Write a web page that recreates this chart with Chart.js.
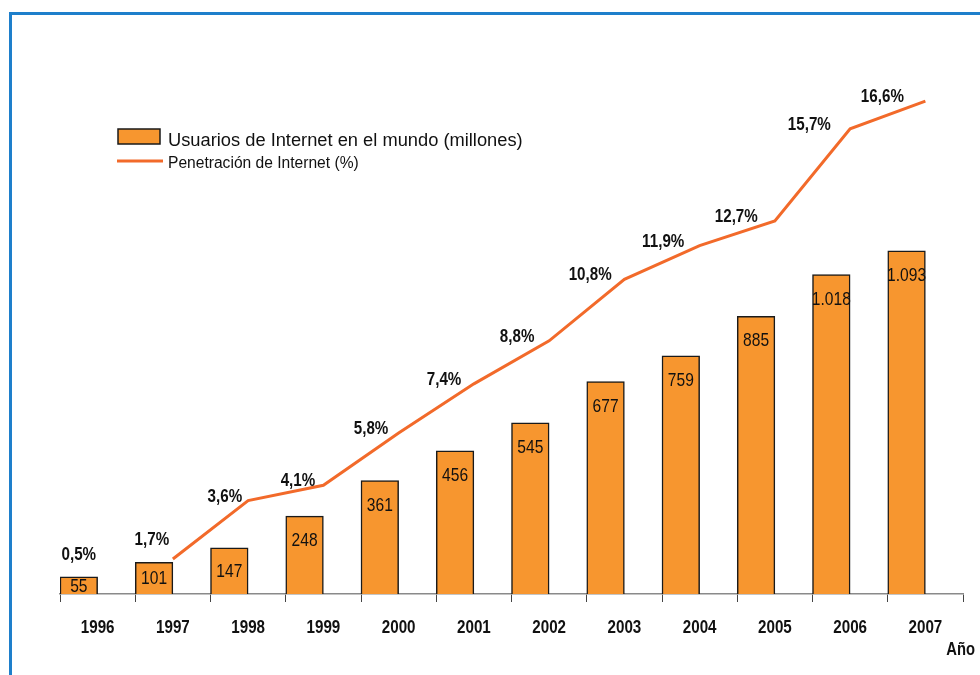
<!DOCTYPE html>
<html><head><meta charset="utf-8">
<script src="https://cdn.jsdelivr.net/npm/chart.js@4/dist/chart.umd.min.js"></script>
<style>
html,body{margin:0;padding:0;background:#fff;overflow:hidden;width:980px;height:675px}
#frame{position:absolute;left:9px;top:12px;width:1000px;height:700px;border:3px solid #1E7FCB;box-sizing:border-box}
#c{position:absolute;left:0;top:0}
</style></head><body>
<div id="frame"></div>
<canvas id="c" width="980" height="675"></canvas>
<script>
// ---- data ----
const years = ['1996','1997','1998','1999','2000','2001','2002','2003','2004','2005','2006','2007'];
const users = [55,101,147,248,361,456,545,677,759,885,1018,1093];           // millones
const penetration = [0.5,1.7,3.6,4.1,5.8,7.4,8.8,10.8,11.9,12.7,15.7,16.6]; // %
const seriesNames = ['Usuarios de Internet en el mundo (millones)', 'Penetración de Internet (%)'];
const axisTitle = 'Año';

// ---- styles ----
const BAR = '#F7962F';
const LINE = '#F26A2A';
const FONT = '"Liberation Sans", Arial, sans-serif';
const NARROW_X = 0.82; // horizontal squeeze to imitate a narrow typeface

function fmtUsers(n){
  return n >= 1000 ? Math.floor(n/1000) + '.' + String(n % 1000).padStart(3,'0') : String(n);
}
function fmtPct(v){ return v.toFixed(1).replace('.', ',') + '%'; }

function narrowText(ctx, text, x, y, font, align){
  ctx.save();
  ctx.translate(x, y);
  ctx.scale(NARROW_X, 1);
  ctx.font = font;
  ctx.textAlign = align || 'center';
  ctx.textBaseline = 'middle';
  ctx.fillText(text, 0, 0);
  ctx.restore();
}

const labelsPlugin = {
  id: 'labels',
  afterDatasetsDraw(chart){
    const ctx = chart.ctx;
    const barMeta = chart.getDatasetMeta(1);
    const y1 = chart.scales.y1;
    const xs = chart.scales.x;
    ctx.save();
    ctx.fillStyle = '#111';
    // bar values
    barMeta.data.forEach((bar, i) => {
      const h = bar.base - bar.y;
      const cy = h < 50 ? (bar.y + bar.base) / 2 + 1 : bar.y + 25;
      narrowText(ctx, fmtUsers(users[i]), bar.x, cy, '19px ' + FONT);
    });
    // percent labels (placed up-left of the line point)
    penetration.forEach((v, i) => {
      const bar = barMeta.data[i];
      const cy = Math.min(y1.getPixelForValue(v) - 4, bar.y - 22);
      narrowText(ctx, fmtPct(v), bar.x - 2.2 * i, cy, 'bold 18.5px ' + FONT);
    });
    // category labels
    years.forEach((yr, i) => {
      narrowText(ctx, yr, xs.getPixelForValue(i), 628, 'bold 18.5px ' + FONT);
    });
    ctx.restore();
  },
  afterDraw(chart){
    const ctx = chart.ctx;
    ctx.save();
    // legend: bar
    ctx.fillStyle = BAR;
    ctx.fillRect(118, 129, 42, 15);
    ctx.strokeStyle = '#1a1a1a';
    ctx.lineWidth = 1.5;
    ctx.strokeRect(118, 129, 42, 15);
    ctx.fillStyle = '#111';
    ctx.textAlign = 'left';
    ctx.textBaseline = 'middle';
    ctx.font = '18.3px ' + FONT;
    ctx.fillText(seriesNames[0], 168, 141);
    // legend: line
    ctx.strokeStyle = LINE;
    ctx.lineWidth = 3;
    ctx.beginPath(); ctx.moveTo(117, 161); ctx.lineTo(163, 161); ctx.stroke();
    ctx.font = '15.6px ' + FONT;
    ctx.fillText(seriesNames[1], 168, 164);
    // axis title
    narrowText(ctx, axisTitle, 975, 650, 'bold 18px ' + FONT, 'right');
    ctx.restore();
  }
};

new Chart(document.getElementById('c').getContext('2d'), {
  type: 'bar',
  data: {
    labels: years,
    datasets: [
      { type: 'line', label: seriesNames[1], data: penetration.map((v, i) => i === 0 ? null : v),
        yAxisID: 'y1', borderColor: LINE, borderWidth: 3, pointRadius: 0, tension: 0, order: 0, clip: false },
      { type: 'bar', label: seriesNames[0], data: users, yAxisID: 'y',
        backgroundColor: BAR, borderColor: '#1a1a1a', borderWidth: 1.5,
        barPercentage: 1, categoryPercentage: 1, order: 1 },
      { type: 'bar', label: '', data: users.map(() => null), yAxisID: 'y',
        barPercentage: 1, categoryPercentage: 1, order: 2 }
    ]
  },
  options: {
    responsive: false,
    animation: false,
    devicePixelRatio: 1,
    layout: { padding: { left: 60, right: 17, top: 29, bottom: 73 } },
    plugins: { legend: { display: false }, tooltip: { enabled: false } },
    scales: {
      x: {
        offset: true,
        grid: { offset: true, drawOnChartArea: false, drawTicks: true, tickLength: 8, color: '#444', lineWidth: 1 },
        border: { display: true, color: '#8a8a8a', width: 1.5 },
        ticks: { display: false }
      },
      y: { display: false, min: 0, max: 1800 },
      y1: { display: false, min: 0.56, max: 18.95, position: 'right' }
    }
  },
  plugins: [labelsPlugin]
});
</script>
</body></html>
